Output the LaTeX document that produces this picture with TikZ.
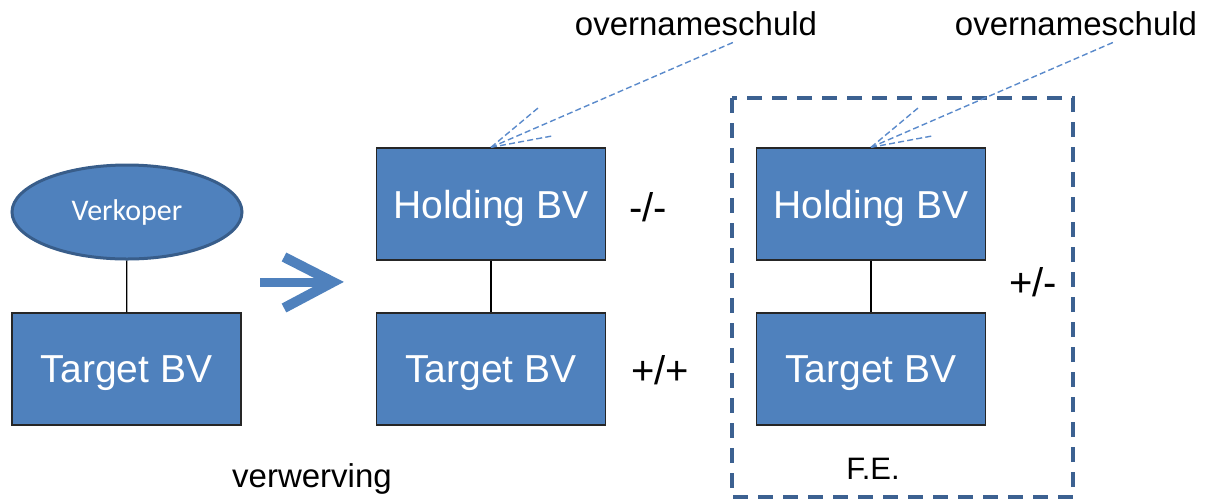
\documentclass[tikz,border=0pt]{standalone}
\usepackage{fontspec}
\setmainfont{Liberation Sans}
\newfontfamily\bodyfont{Carlito}
\usetikzlibrary{shapes.geometric}

\definecolor{boxblue}{HTML}{4F81BD}
\definecolor{rimblue}{HTML}{385D8A}
\definecolor{frameblue}{HTML}{3C6191}
\definecolor{calloutblue}{HTML}{5A8ACB}

\tikzset{
  company/.style={draw=black!85, line width=0.7pt, fill=boxblue, text=white,
    minimum width=114.5pt, minimum height=56pt, inner sep=0pt, text depth=0pt,
    font=\fontsize{19.5}{22}\selectfont},
  owner/.style={ellipse, draw=rimblue, line width=1.5pt, fill=boxblue, text=white,
    minimum width=115pt, minimum height=47pt, inner sep=0pt,
    font=\bodyfont\fontsize{15}{18}\selectfont},
  link/.style={draw=black, line width=0.6pt},
  callout/.style={draw=calloutblue, line width=0.7pt, dash pattern=on 3pt off 1.6pt},
  sign/.style={inner sep=0pt, font=\fontsize{20}{24}\selectfont},
  caption/.style={inner sep=0pt, anchor=base, font=\fontsize{16.5}{20}\selectfont},
  fegroup/.style={draw=frameblue, line width=2pt, dash pattern=on 7.5pt off 5pt}
}

\begin{document}
\begin{tikzpicture}[x=0.5pt, y=-0.5pt]
\useasboundingbox (0,0) rectangle (1208,500);

% seller and target before the deal
\node[owner] (verkoper) at (127,212) {Verkoper};
\node[company] (targetA) at (126.5,369) {Target BV};
\draw[link] (verkoper) -- (targetA);

% the big arrow
\coordinate (arrtail) at (260,282);
\coordinate (arrtip) at (333,282);
\draw[boxblue, line width=4.5pt] (arrtail) -- (arrtip);
\draw[boxblue, line width=5pt, line join=miter] (284,257) -- (arrtip) -- (284,308);

% after the acquisition
\node[company] (holdingB) at (491,204) {Holding BV};
\node[company] (targetB) at (491,369) {Target BV};
\draw[link] (holdingB) -- (targetB);
\node[sign] (signH) at (648,207) {-/-};
\node[sign] (signT) at (660,370) {+/+};
\node[caption] (verwerving) at (312,487) {verwerving};

% fiscal unity
\draw[fegroup] (732,98) rectangle (1073,497);
\node[company] (holdingC) at (871,204) {Holding BV};
\node[company] (targetC) at (871,369) {Target BV};
\draw[link] (holdingC) -- (targetC);
\node[sign] (signFE) at (1033,282) {+/-};
\node[caption, font=\fontsize{15.5}{18}\selectfont] (fe) at (873,479) {F.E.};

% callouts
\node[caption] (schuldB) at (696,35) {overnameschuld};
\coordinate (tipB) at (734,42);
\coordinate (spurB1) at (538,108);
\coordinate (spurB2) at (552,136);
\draw[callout] (holdingB.north) -- (tipB);
\draw[callout] (holdingB.north) -- (spurB1);
\draw[callout] (holdingB.north) -- (spurB2);

\node[caption] (schuldC) at (1076,35) {overnameschuld};
\coordinate (tipC) at (1114,42);
\coordinate (spurC1) at (918,108);
\coordinate (spurC2) at (932,136);
\draw[callout] (holdingC.north) -- (tipC);
\draw[callout] (holdingC.north) -- (spurC1);
\draw[callout] (holdingC.north) -- (spurC2);
\end{tikzpicture}
\end{document}
